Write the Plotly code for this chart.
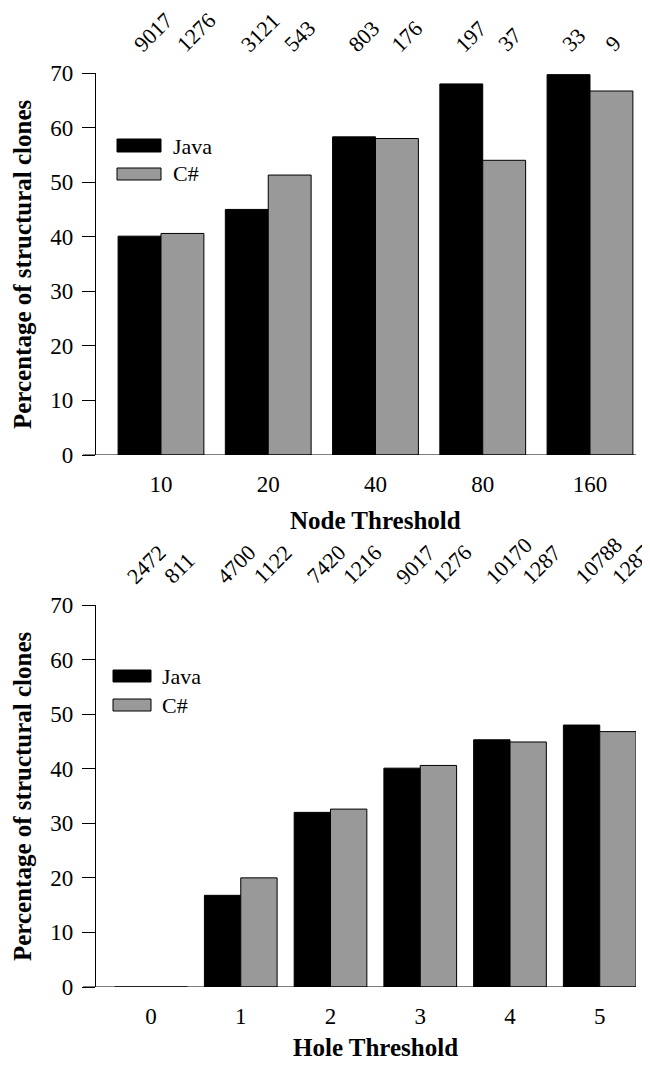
import plotly.graph_objects as go

# ---------------- data ----------------
node_thresholds = ["10", "20", "40", "80", "160"]
java_node_pct = [40.1, 45.0, 58.3, 68.0, 69.7]
csharp_node_pct = [40.6, 51.3, 58.0, 54.0, 66.7]
java_node_counts = ["9017", "3121", "803", "197", "33"]
csharp_node_counts = ["1276", "543", "176", "37", "9"]

hole_thresholds = ["0", "1", "2", "3", "4", "5"]
java_hole_pct = [0.0, 16.8, 32.0, 40.1, 45.3, 48.0]
csharp_hole_pct = [0.0, 20.0, 32.6, 40.6, 44.9, 46.8]
java_hole_counts = ["2472", "4700", "7420", "9017", "10170", "10788"]
csharp_hole_counts = ["811", "1122", "1216", "1276", "1287", "1287"]

y_ticks = [0, 10, 20, 30, 40, 50, 60, 70]

# ---------------- layout constants ----------------
# The page adds an 8px body margin at the top/left, so page coordinates are
# converted to figure coordinates by subtracting 8; the figure runs to the
# window's right and bottom edges.
PAGE_OFF = 8
W, H = 650 - PAGE_OFF, 1065 - PAGE_OFF
ML = 96 - PAGE_OFF
PLOT_RIGHT = 636 - PAGE_OFF
MR = W - PLOT_RIGHT
PW = W - ML - MR
FONT = "Times New Roman, Liberation Serif, Times, serif"
JAVA_COLOR = "black"
CS_COLOR = "#999999"


def px_x(px):
    return (px - PAGE_OFF - ML) / PW


def px_y(py):
    return 1 - (py - PAGE_OFF) / H


top_dom = [px_y(455), px_y(73)]
bot_dom = [px_y(987), px_y(605)]

fig = go.Figure()

bw_top = 0.4
bw_bot = 0.405
top_x = list(range(len(node_thresholds)))
bot_x = list(range(len(hole_thresholds)))

fig.add_trace(go.Bar(x=top_x, y=java_node_pct, name="Java", xaxis="x", yaxis="y",
                     width=bw_top, offset=-bw_top,
                     marker=dict(color=JAVA_COLOR, line=dict(color="black", width=1)),
                     showlegend=False))
fig.add_trace(go.Bar(x=top_x, y=csharp_node_pct, name="C#", xaxis="x", yaxis="y",
                     width=bw_top, offset=0,
                     marker=dict(color=CS_COLOR, line=dict(color="black", width=1)),
                     showlegend=False))
fig.add_trace(go.Bar(x=bot_x, y=java_hole_pct, name="Java", xaxis="x2", yaxis="y2",
                     width=bw_bot, offset=-bw_bot,
                     marker=dict(color=JAVA_COLOR, line=dict(color="black", width=1)),
                     showlegend=False))
fig.add_trace(go.Bar(x=bot_x, y=csharp_hole_pct, name="C#", xaxis="x2", yaxis="y2",
                     width=bw_bot, offset=0,
                     marker=dict(color=CS_COLOR, line=dict(color="black", width=1)),
                     showlegend=False))

yaxis_common = dict(range=[0, 70], tickvals=y_ticks, ticks="outside", ticklen=13,
                    tickwidth=1.2, tickcolor="black", showline=True, linewidth=1.2,
                    linecolor="black", showgrid=False, zeroline=False,
                    tickfont=dict(family=FONT, size=23, color="black"),
                    ticklabelstandoff=4, fixedrange=True, automargin=False)
xaxis_common = dict(showline=False, showgrid=False, zeroline=False, ticks="",
                    tickfont=dict(family=FONT, size=23, color="black"),
                    ticklabelstandoff=13, fixedrange=True, automargin=False)

fig.update_layout(
    template="none",
    width=W, height=H, autosize=False,
    margin=dict(l=ML, r=MR, t=0, b=0, pad=0, autoexpand=False),
    paper_bgcolor="white", plot_bgcolor="white",
    barmode="overlay",
    font=dict(family=FONT, color="black"),
    xaxis=dict(domain=[0, 1], anchor="y", range=[-0.606, 4.429],
               tickvals=top_x, ticktext=node_thresholds, **xaxis_common),
    yaxis=dict(domain=top_dom, anchor="x", **yaxis_common),
    xaxis2=dict(domain=[0, 1], anchor="y2", range=[-0.613, 5.404],
                tickvals=bot_x, ticktext=hole_thresholds, **xaxis_common),
    yaxis2=dict(domain=bot_dom, anchor="x2", **yaxis_common),
)

shapes = []
annotations = []

# baselines extending left of the y axis
for yref in ["y", "y2"]:
    shapes.append(dict(type="line", xref="paper", yref=yref, x0=px_x(83), x1=1.0,
                       y0=0, y1=0, line=dict(color="black", width=1.2), layer="above"))

# rotated count labels
CFS = 22


def count_labels(xs, counts, xaxis, dom_top, side, bw):
    for xi, txt in zip(xs, counts):
        cx = xi - bw / 2 if side == "java" else xi + bw / 2
        w = len(txt) * 0.5 * CFS
        h = 0.68 * CFS
        annotations.append(dict(
            x=cx, xref=xaxis, y=dom_top, yref="paper", text=txt, showarrow=False,
            textangle=-45, xanchor="center", yanchor="middle",
            xshift=3 + 0.354 * (w - h), yshift=20 + 0.354 * (w + h),
            font=dict(family=FONT, size=CFS, color="black")))


count_labels(top_x, java_node_counts, "x", top_dom[1], "java", bw_top)
count_labels(top_x, csharp_node_counts, "x", top_dom[1], "cs", bw_top)
count_labels(bot_x, java_hole_counts, "x2", bot_dom[1], "java", bw_bot)
count_labels(bot_x, csharp_hole_counts, "x2", bot_dom[1], "cs", bw_bot)

# axis titles
TFS = 25
for dom in [top_dom, bot_dom]:
    annotations.append(dict(x=px_x(22), y=(dom[0] + dom[1]) / 2, xref="paper", yref="paper",
                            text="<b>Percentage of structural clones</b>", showarrow=False,
                            textangle=-90, xanchor="center", yanchor="middle",
                            font=dict(family=FONT, size=TFS, color="black")))
annotations.append(dict(x=px_x(375), y=px_y(520), xref="paper", yref="paper",
                        text="<b>Node Threshold</b>", showarrow=False,
                        xanchor="center", yanchor="middle",
                        font=dict(family=FONT, size=TFS, color="black")))
annotations.append(dict(x=px_x(375), y=px_y(1047), xref="paper", yref="paper",
                        text="<b>Hole Threshold</b>", showarrow=False,
                        xanchor="center", yanchor="middle",
                        font=dict(family=FONT, size=TFS, color="black")))

# custom legends (wide rectangular keys)
LFS = 22
legends = [
    # (rect x0, x1, java y0, y1, cs y0, y1, text x, java text y, cs text y)
    (117, 161, 139, 152, 168, 180, 171, 146, 174),
    (113, 151, 670, 682, 699, 711, 160, 676, 705),
]
for (rx0, rx1, jy0, jy1, cy0, cy1, tx, jty, cty) in legends:
    shapes.append(dict(type="rect", xref="paper", yref="paper",
                       x0=px_x(rx0), x1=px_x(rx1), y0=px_y(jy1), y1=px_y(jy0),
                       fillcolor=JAVA_COLOR, line=dict(color="black", width=1)))
    shapes.append(dict(type="rect", xref="paper", yref="paper",
                       x0=px_x(rx0), x1=px_x(rx1), y0=px_y(cy1), y1=px_y(cy0),
                       fillcolor=CS_COLOR, line=dict(color="black", width=1)))
    annotations.append(dict(x=px_x(tx), y=px_y(jty), xref="paper", yref="paper",
                            text="Java", showarrow=False, xanchor="left", yanchor="middle",
                            font=dict(family=FONT, size=LFS, color="black")))
    annotations.append(dict(x=px_x(tx), y=px_y(cty), xref="paper", yref="paper",
                            text="C#", showarrow=False, xanchor="left", yanchor="middle",
                            font=dict(family=FONT, size=LFS, color="black")))

fig.update_layout(shapes=shapes, annotations=annotations)

fig.write_html("out.html")
